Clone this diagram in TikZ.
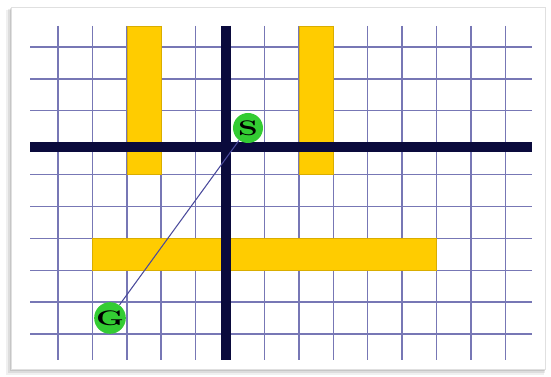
\documentclass[tikz,border=0pt]{standalone}
\usepackage{tikz}
\usetikzlibrary{positioning}
\definecolor{map-navy}{HTML}{0A0A3C}
\definecolor{map-grid}{HTML}{4A4A9C}
\definecolor{map-yellow}{HTML}{FFCC00}
\definecolor{map-green}{HTML}{33CC33}

\begin{document}
\begin{tikzpicture}[x=0.02cm, y=-0.02cm,
    gridline/.style={map-grid!75, line width=0.8pt},
    axis/.style={map-navy, line width=5.5pt},
    wall/.style={fill=map-yellow, draw=map-yellow!85!black, line width=0.3pt},
    marker/.style={circle, fill=map-green, minimum size=0.6cm, inner sep=0pt,
                   font=\large\bfseries},
]
    \def\dx{34.4}
    \def\dy{31.9}
    \useasboundingbox (0,0) rectangle (551,377);

    % Page with shadow
    \fill[black, opacity=0.06] (6,10) rectangle (544,375);
    \fill[black, opacity=0.08] (8,9) rectangle (545,373);
    \fill[black, opacity=0.10] (10,8) rectangle (545,371);
    \draw[black!12, fill=white] (11,7) rectangle (545,369);

    % Grid
    \foreach \i in {0,...,13}
        \draw[gridline] ({58+\dx*\i},26) -- ({58+\dx*\i},360);
    \foreach \j in {0,...,9}
        \draw[gridline] (30,{47+\dy*\j}) -- (532,{47+\dy*\j});

    % Walls
    \filldraw[wall] ({58+2*\dx},26) rectangle ({58+3*\dx},{47+4*\dy});
    \filldraw[wall] ({58+7*\dx},26) rectangle ({58+8*\dx},{47+4*\dy});
    \filldraw[wall] ({58+1*\dx},{47+6*\dy}) rectangle ({58+11*\dx},{47+7*\dy});

    % Axes
    \draw[axis] (226,26) -- (226,360);
    \draw[axis] (30,147) -- (532,147);

    % Start and goal
    \node[marker] (s) at (248,128) {\scalebox{1.5}[1]{S}};
    \node[marker] (g) at (110,318) {\scalebox{1.5}[1]{G}};
    \draw[map-grid, line width=0.6pt] (s) -- (g);
\end{tikzpicture}
\end{document}
